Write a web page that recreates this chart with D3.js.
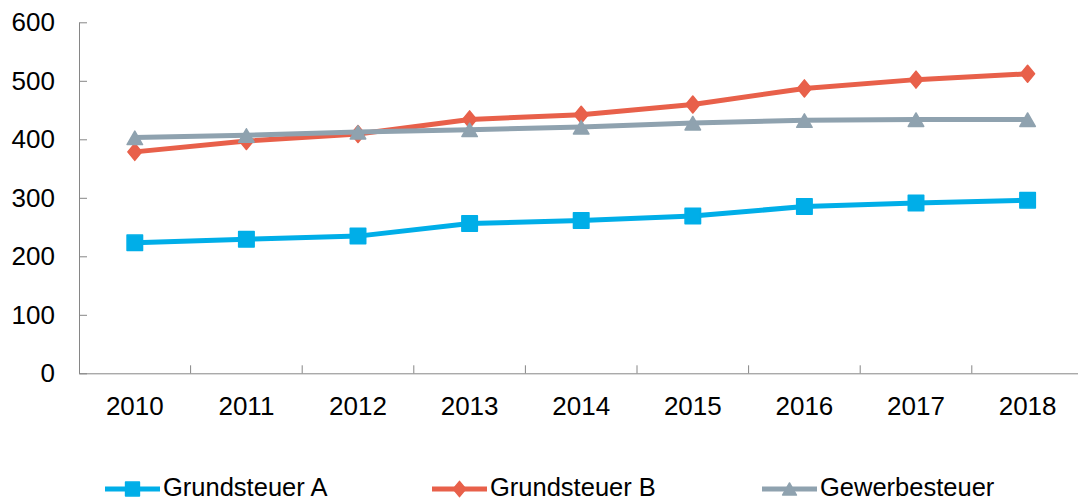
<!DOCTYPE html>
<html><head><meta charset="utf-8">
<script src="https://cdn.jsdelivr.net/npm/d3@7"></script>
<style>body{margin:0;background:#fff}svg{display:block}text{font-family:"Liberation Sans",Arial,sans-serif;fill:#000}</style>
</head><body>
<svg id="c" width="1078" height="501"></svg>
<script>
const years = ["2010","2011","2012","2013","2014","2015","2016","2017","2018"];
const grundsteuerA = [223, 229, 234.5, 256, 261, 269, 285, 291, 296];
const grundsteuerB = [378.5, 397, 409, 434, 442, 459.5, 487, 502, 512];
const gewerbesteuer = [403, 407, 412.5, 416.5, 421, 428, 432.5, 434, 434];
const yTicks = [0,100,200,300,400,500,600];
const seriesNames = ["Grundsteuer A","Grundsteuer B","Gewerbesteuer"];
const seriesColors = ["#00AEE8","#E8604A","#8FA2AF"];
const seriesData = [grundsteuerA, grundsteuerB, gewerbesteuer];

(function(){
const svg = d3.select("#c");
const plotLeft = 79, plotTop = 22.3, plotBottom = 373.3, step = 111.6;
const x = d3.scaleBand().domain(years).range([plotLeft, plotLeft + step*years.length]).padding(0);
const y = d3.scaleLinear().domain([0,600]).range([plotBottom, plotTop]);
const axisColor = "#868686";
const font = '"Liberation Sans",Arial,sans-serif';

// custom diamond symbol (slightly taller than wide)
const tallDiamond = { draw(ctx, size){ const w = Math.sqrt(size)/2*0.82, h = Math.sqrt(size)/2;
  ctx.moveTo(0,-h); ctx.lineTo(w,0); ctx.lineTo(0,h); ctx.lineTo(-w,0); ctx.closePath(); } };
const shapes = [d3.symbolSquare, tallDiamond, d3.symbolTriangle];
const sizes = [240, 290, 104];
const offsets = [0, 0, 2.5];

// Y axis
const ya = svg.append("g").attr("transform",`translate(${plotLeft},0)`)
  .call(d3.axisLeft(y).tickValues(yTicks).tickSizeInner(-8).tickSizeOuter(0).tickPadding(24));
ya.select(".domain").attr("stroke",axisColor);
ya.selectAll(".tick line").attr("stroke",axisColor);
ya.selectAll("text").attr("font-size",26).attr("font-family",font).attr("fill","#000");

// X axis
const xa = svg.append("g").attr("transform",`translate(0,${plotBottom})`)
  .call(d3.axisBottom(x).tickSize(0).tickPadding(23.5));
xa.select(".domain").attr("stroke",axisColor);
xa.selectAll("text").attr("font-size",26).attr("font-family",font).attr("fill","#000");
xa.selectAll(".bound").data(years.slice(1)).enter().append("line").attr("class","bound")
  .attr("x1",d=>x(d)).attr("x2",d=>x(d)).attr("y1",0).attr("y2",-8).attr("stroke",axisColor);

// Lines and markers
const line = d3.line().x((d,i)=>x(years[i])+x.bandwidth()/2).y(d=>y(d));
seriesData.forEach((vals,si)=>{
  const g = svg.append("g");
  g.append("path").datum(vals).attr("d",line).attr("fill","none")
    .attr("stroke",seriesColors[si]).attr("stroke-width",5).attr("stroke-linejoin","round");
  g.selectAll("path.m").data(vals).enter().append("path").attr("class","m")
    .attr("transform",(d,i)=>`translate(${x(years[i])+x.bandwidth()/2},${y(d)+offsets[si]})`)
    .attr("d",d3.symbol().type(shapes[si]).size(sizes[si]))
    .attr("fill",seriesColors[si]).attr("stroke",seriesColors[si]).attr("stroke-width",1.5).attr("stroke-linejoin","round");
});

// Legend
const legX = [105, 432, 762];
const legY = 489;
seriesNames.forEach((n,si)=>{
  const g = svg.append("g").attr("transform",`translate(${legX[si]},${legY})`);
  g.append("line").attr("x1",0).attr("x2",55).attr("stroke",seriesColors[si]).attr("stroke-width",5);
  g.append("path").attr("transform",`translate(27.5,${offsets[si]*0.8})`)
    .attr("d",d3.symbol().type(shapes[si]).size(sizes[si]*0.8))
    .attr("fill",seriesColors[si]).attr("stroke",seriesColors[si]).attr("stroke-width",1.5).attr("stroke-linejoin","round");
  g.append("text").attr("x",58).attr("y",6.5).attr("font-size",25.5).text(n);
});
})();
</script>
</body></html>
